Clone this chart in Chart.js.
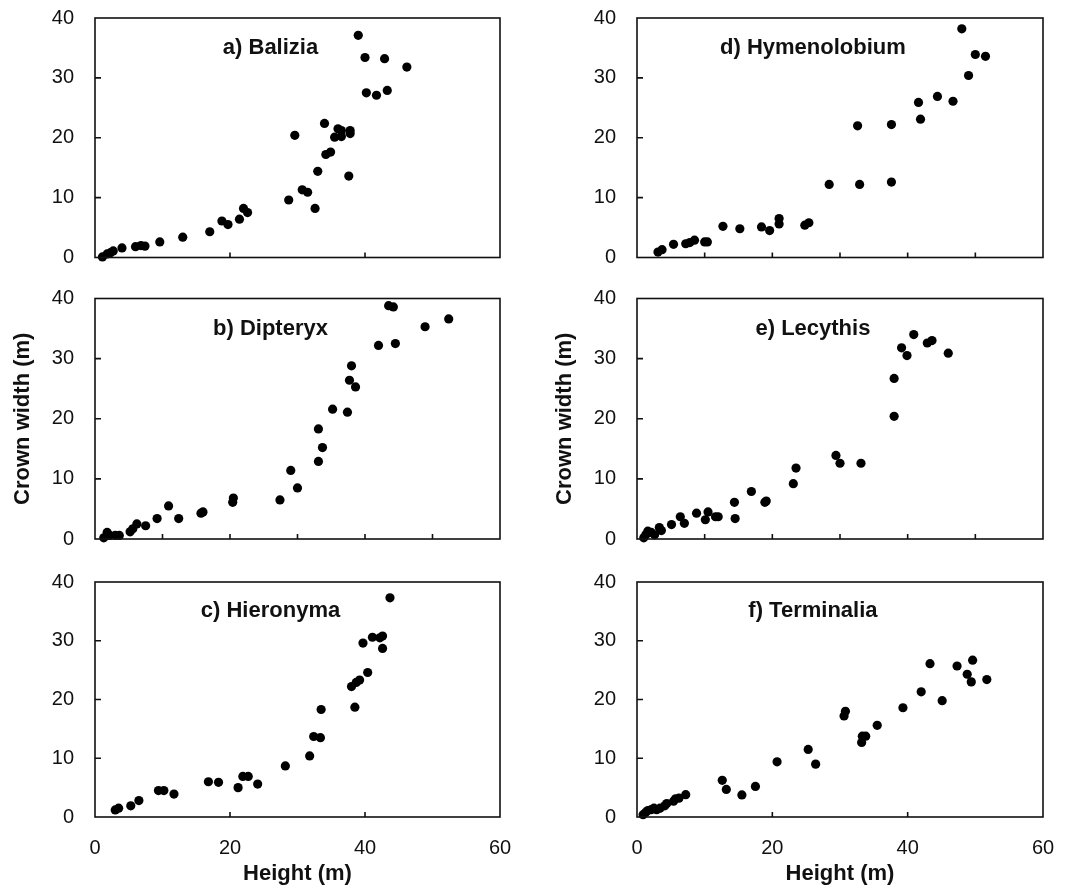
<!DOCTYPE html>
<html>
<head>
<meta charset="utf-8">
<script src="https://cdn.jsdelivr.net/npm/chart.js@4.4.0/dist/chart.umd.min.js"></script>
<style>
  body { margin: 0; background: #fff; }
  #wrap { position: relative; width: 1072px; height: 890px; }
  .cell { position: absolute; }
</style>
</head>
<body>
<div id="wrap">
  <div class="cell" style="left:0;top:0;width:536px;height:280px"><canvas id="pa"></canvas></div>
  <div class="cell" style="left:0;top:280px;width:536px;height:280px"><canvas id="pb"></canvas></div>
  <div class="cell" style="left:0;top:560px;width:536px;height:330px"><canvas id="pc"></canvas></div>
  <div class="cell" style="left:536px;top:0;width:536px;height:280px"><canvas id="pd"></canvas></div>
  <div class="cell" style="left:536px;top:280px;width:536px;height:280px"><canvas id="pe"></canvas></div>
  <div class="cell" style="left:536px;top:560px;width:536px;height:330px"><canvas id="pf"></canvas></div>
</div>
<script>
// Tree height (m) vs crown width (m), six species
const baliziaHeight = [1.1, 1.8, 2.3, 2.7, 4.0, 6.0, 6.8, 7.4, 9.6, 13.0, 17.0, 18.8, 19.7, 21.4, 22.0, 22.6, 28.7, 29.6, 30.7, 31.5, 32.6, 33.0, 34.0, 34.2, 34.9, 35.5, 36.0, 36.5, 36.5, 37.6, 37.8, 37.8, 39.0, 40.0, 40.2, 41.7, 42.9, 43.3, 46.2];
const baliziaWidth  = [0.1, 0.6, 0.8, 1.1, 1.6, 1.8, 2.0, 1.9, 2.6, 3.4, 4.3, 6.1, 5.5, 6.4, 8.2, 7.5, 9.6, 20.4, 11.3, 10.9, 8.2, 14.4, 22.4, 17.2, 17.6, 20.1, 21.5, 20.2, 21.2, 13.6, 21.2, 20.7, 37.1, 33.4, 27.5, 27.1, 33.2, 27.9, 31.8];

const dipteryxHeight = [1.3, 1.8, 2.2, 3.0, 3.6, 5.2, 5.6, 6.2, 7.5, 9.2, 10.9, 12.4, 15.7, 16.0, 20.4, 20.5, 27.4, 29.0, 30.0, 33.1, 33.1, 33.7, 35.2, 37.4, 37.7, 38.0, 38.6, 42.0, 43.5, 44.2, 44.5, 48.9, 52.4];
const dipteryxWidth  = [0.2, 1.1, 0.6, 0.6, 0.6, 1.2, 1.7, 2.5, 2.2, 3.4, 5.5, 3.4, 4.3, 4.5, 6.1, 6.8, 6.5, 11.4, 8.5, 12.9, 18.3, 15.2, 21.6, 21.1, 26.4, 28.8, 25.3, 32.2, 38.8, 38.6, 32.5, 35.3, 36.6];

const hieronymaHeight = [3.0, 3.5, 5.3, 6.5, 9.4, 10.2, 11.7, 16.8, 18.3, 21.2, 21.9, 22.7, 24.1, 28.2, 31.8, 32.4, 33.4, 33.5, 38.0, 38.5, 38.7, 39.2, 39.7, 40.4, 41.1, 42.2, 42.6, 42.6, 43.7];
const hieronymaWidth  = [1.2, 1.5, 1.9, 2.8, 4.5, 4.5, 3.9, 6.0, 5.9, 5.0, 6.9, 6.9, 5.6, 8.7, 10.4, 13.7, 13.5, 18.3, 22.2, 18.7, 22.9, 23.3, 29.6, 24.6, 30.6, 30.5, 30.8, 28.7, 37.3];

const hymenolobiumHeight = [3.1, 3.7, 5.4, 7.2, 7.8, 8.5, 10.0, 10.4, 12.7, 15.2, 18.4, 19.6, 21.0, 21.0, 24.8, 25.4, 28.4, 32.6, 32.9, 37.6, 37.6, 41.6, 41.9, 44.4, 46.7, 48.0, 49.0, 50.0, 51.5];
const hymenolobiumWidth  = [0.9, 1.3, 2.2, 2.3, 2.5, 2.9, 2.6, 2.6, 5.2, 4.8, 5.1, 4.5, 6.5, 5.6, 5.4, 5.8, 12.2, 22.0, 12.2, 22.2, 12.6, 25.9, 23.1, 26.9, 26.1, 38.2, 30.4, 33.9, 33.6];

const lecythisHeight = [1.0, 1.3, 1.6, 2.1, 2.6, 3.3, 3.6, 5.1, 6.4, 7.0, 8.8, 10.1, 10.5, 11.6, 12.0, 14.4, 14.5, 16.9, 18.9, 19.1, 23.1, 23.5, 29.4, 30.0, 33.1, 38.0, 38.0, 39.1, 39.9, 40.9, 42.9, 43.6, 46.0];
const lecythisWidth  = [0.2, 0.7, 1.3, 1.1, 0.7, 1.9, 1.4, 2.4, 3.7, 2.6, 4.3, 3.2, 4.5, 3.7, 3.7, 6.1, 3.4, 7.9, 6.1, 6.3, 9.2, 11.8, 13.9, 12.6, 12.6, 26.7, 20.4, 31.8, 30.5, 34.0, 32.6, 33.0, 30.9];

const terminaliaHeight = [0.9, 1.3, 1.6, 2.1, 2.5, 2.9, 3.4, 4.1, 4.4, 5.4, 5.7, 6.2, 7.2, 12.6, 13.2, 15.5, 17.5, 20.7, 25.3, 26.4, 30.6, 30.8, 33.2, 33.3, 33.8, 35.5, 39.3, 42.0, 43.3, 45.1, 47.3, 48.8, 49.4, 49.6, 51.7];
const terminaliaWidth  = [0.4, 0.8, 1.1, 1.25, 1.5, 1.25, 1.5, 1.9, 2.3, 2.7, 3.1, 3.2, 3.8, 6.25, 4.7, 3.75, 5.2, 9.4, 11.5, 9.0, 17.2, 18.0, 12.7, 13.75, 13.75, 15.6, 18.6, 21.3, 26.1, 19.8, 25.7, 24.3, 23.0, 26.7, 23.4];

const xTickLabels = [0, 20, 40, 60];
const yTickLabels = [0, 10, 20, 30, 40];
const yMarks = [10, 20, 30];
const marksEvery20 = [20, 40];
const marksEvery10 = [10, 20, 30, 40, 50];

const FONT = '"Liberation Sans", Arial, Helvetica, sans-serif';
const INK = '#111';

// frame box, inward tick marks, panel label
const framePlugin = {
  id: 'frame',
  afterDatasetsDraw(chart, args, opts) {
    const { ctx, chartArea: a, scales: { x, y } } = chart;
    ctx.save();
    ctx.strokeStyle = INK;
    ctx.lineWidth = 1.6;
    ctx.strokeRect(a.left, a.top, a.right - a.left, a.bottom - a.top);
    ctx.beginPath();
    opts.xMarks.forEach(v => {
      const px = x.getPixelForValue(v);
      ctx.moveTo(px, a.bottom); ctx.lineTo(px, a.bottom - 5);
    });
    yMarks.forEach(v => {
      const py = y.getPixelForValue(v);
      ctx.moveTo(a.left, py); ctx.lineTo(a.left + 6, py);
    });
    ctx.stroke();
    ctx.font = 'bold 22px ' + FONT;
    ctx.fillStyle = INK;
    ctx.textAlign = 'center';
    ctx.textBaseline = 'middle';
    ctx.fillText(opts.label, x.getPixelForValue(26), y.getPixelForValue(35));
    ctx.restore();
  }
};

const cols = {
  left:  { yWidth: 95,  padRight: 36, titlePad: 10 },
  right: { yWidth: 101, padRight: 29, titlePad: 16 }
};
const rows = {
  top:    { padTop: 18,   xHeight: 22.5 },
  middle: { padTop: 18.5, xHeight: 21 },
  bottom: { padTop: 22,   xHeight: 73 }
};

function makePanel(id, label, hs, ws, col, row, xMarks) {
  const c = cols[col], r = rows[row];
  const points = hs.map((h, i) => ({ x: h, y: ws[i] }));
  new Chart(document.getElementById(id), {
    type: 'scatter',
    data: {
      datasets: [{
        data: points,
        backgroundColor: '#000',
        borderWidth: 0,
        pointRadius: 4.6,
        pointHoverRadius: 4.6,
        clip: false
      }]
    },
    options: {
      responsive: true,
      maintainAspectRatio: false,
      animation: false,
      events: [],
      layout: { padding: { left: 0, right: c.padRight, top: r.padTop, bottom: 0 } },
      plugins: {
        legend: { display: false },
        tooltip: { enabled: false },
        frame: { label, xMarks }
      },
      scales: {
        x: {
          type: 'linear', min: 0, max: 60,
          afterFit: s => { s.height = r.xHeight; s.paddingLeft = 0; s.paddingRight = 0; },
          afterBuildTicks: s => { s.ticks = xTickLabels.map(v => ({ value: v })); },
          grid: { display: false, drawTicks: false },
          border: { display: false },
          ticks: {
            display: row === 'bottom',
            padding: 19,
            color: INK,
            font: { family: FONT, size: 20 }
          },
          title: {
            display: row === 'bottom',
            text: 'Height (m)',
            color: INK,
            font: { family: FONT, size: 22, weight: 'bold' },
            padding: { top: 0, bottom: 3 }
          }
        },
        y: {
          type: 'linear', min: 0, max: 40,
          afterFit: s => { s.width = c.yWidth; s.paddingTop = 0; s.paddingBottom = 0; },
          afterBuildTicks: s => { s.ticks = yTickLabels.map(v => ({ value: v })); },
          grid: { display: false, drawTicks: false },
          border: { display: false },
          ticks: {
            padding: 21,
            color: INK,
            font: { family: FONT, size: 20 }
          },
          title: {
            display: row === 'middle',
            text: 'Crown width (m)',
            color: INK,
            font: { family: FONT, size: 22, weight: 'bold' },
            padding: { top: c.titlePad, bottom: 0 }
          }
        }
      }
    },
    plugins: [framePlugin]
  });
}

makePanel('pa', 'a) Balizia', baliziaHeight, baliziaWidth, 'left', 'top', marksEvery20);
makePanel('pb', 'b) Dipteryx', dipteryxHeight, dipteryxWidth, 'left', 'middle', marksEvery10);
makePanel('pc', 'c) Hieronyma', hieronymaHeight, hieronymaWidth, 'left', 'bottom', marksEvery20);
makePanel('pd', 'd) Hymenolobium', hymenolobiumHeight, hymenolobiumWidth, 'right', 'top', marksEvery10);
makePanel('pe', 'e) Lecythis', lecythisHeight, lecythisWidth, 'right', 'middle', marksEvery10);
makePanel('pf', 'f) Terminalia', terminaliaHeight, terminaliaWidth, 'right', 'bottom', marksEvery20);
</script>
</body>
</html>
